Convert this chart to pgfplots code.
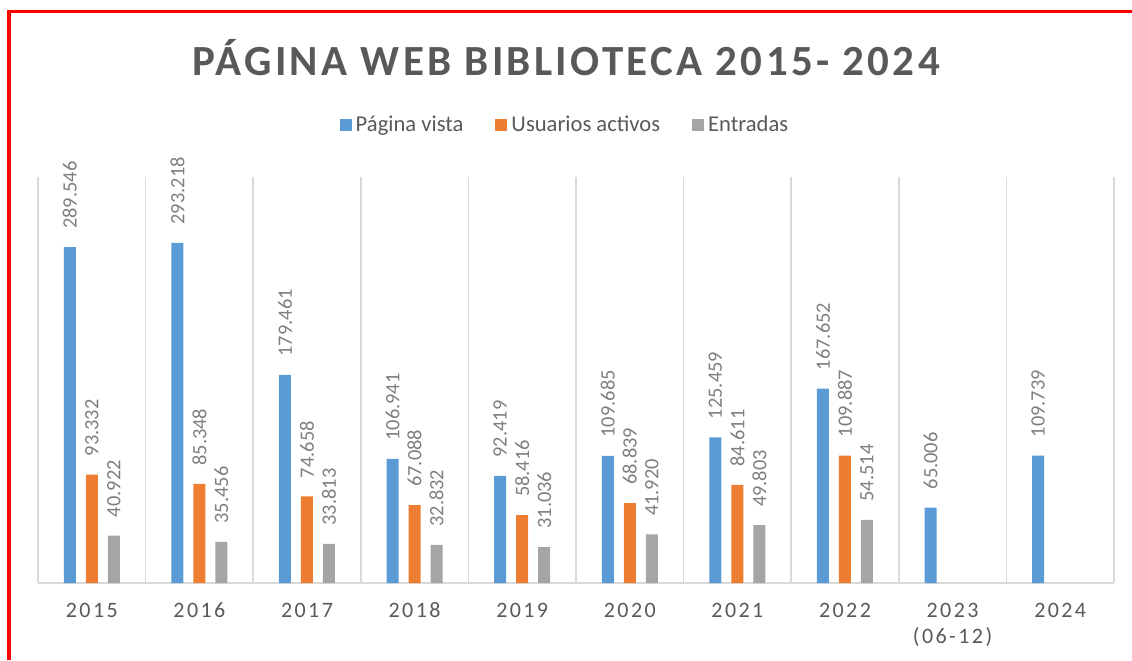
\documentclass[border=0pt]{standalone}
\usepackage{pgfplots}
\pgfplotsset{compat=1.18}
\usepackage{pgfplotstable}
\usepackage{fontspec}
\setmainfont{Carlito}
\definecolor{cblue}{HTML}{5B9BD5}
\definecolor{corange}{HTML}{ED7D31}
\definecolor{cgray}{HTML}{A5A5A5}
\definecolor{txt}{HTML}{595959}
\definecolor{lbl}{HTML}{7F7F7F}
\definecolor{gridc}{HTML}{D9D9D9}

\pgfplotstableread{
x y lab
0 289546 289.546
1 293218 293.218
2 179461 179.461
3 106941 106.941
4 92419 92.419
5 109685 109.685
6 125459 125.459
7 167652 167.652
8 65006 65.006
9 109739 109.739
}\pv
\pgfplotstableread{
x y lab
0 93332 93.332
1 85348 85.348
2 74658 74.658
3 67088 67.088
4 58416 58.416
5 68839 68.839
6 84611 84.611
7 109887 109.887
}\ua
\pgfplotstableread{
x y lab
0 40922 40.922
1 35456 35.456
2 33813 33.813
3 32832 32.832
4 31036 31.036
5 41920 41.920
6 49803 49.803
7 54514 54.514
}\en

\newcommand{\twolines}[2]{\vtop{\halign{\hfil##\hfil\cr #1\cr #2\cr}}}

\begin{document}
\begin{tikzpicture}
\useasboundingbox (0,0) rectangle (566pt,330pt);
\draw[red, line width=2.25pt] (4.5pt,0) -- (4.5pt,324.2pt);
\draw[red, line width=1.6pt] (3.4pt,324.2pt) -- (566pt,324.2pt);
\node[font=\fontsize{21.5}{24}\selectfont\bfseries\addfontfeature{LetterSpace=7.8}, text=txt, anchor=base] at (283pt,292pt) {PÁGINA WEB BIBLIOTECA 2015- 2024};
\begin{axis}[
  at={(19pt,38.5pt)}, anchor=south west,
  scale only axis, width=538pt, height=203pt,
  xmin=-0.5, xmax=9.5, ymin=0, ymax=350000,
  ybar=5pt, bar width=6pt,
  axis y line=none, axis x line*=bottom,
  x axis line style={draw=gridc, line width=0.8pt, -},
  xtick={0,...,9},
  xticklabels={2015,2016,2017,2018,2019,2020,2021,2022,{\twolines{2023}{(06-12)}},2024},
  xticklabel style={anchor=base, inner sep=0pt, yshift=-17.2pt,
    font=\fontsize{11}{13}\selectfont\addfontfeature{LetterSpace=11}, text=txt},
  major tick length=0pt,
  minor xtick={-0.5,0.5,...,9.5},
  xminorgrids, minor grid style={draw=gridc, line width=0.75pt},
  minor tick length=0pt,
  nodes near coords, point meta=explicit symbolic,
  every node near coord/.append style={rotate=90, anchor=west, inner xsep=9pt, inner ysep=0pt,
    font=\fontsize{10.2}{12}\selectfont, text=lbl},
  legend style={at={(0.4907,1)}, anchor=center, yshift=26pt, draw=none, fill=none,
    font=\fontsize{11.3}{13}\selectfont, text=txt,
    /tikz/every even column/.append style={column sep=14pt}},
  legend columns=-1,
  legend image code/.code={\fill[#1] (0pt,-3pt) rectangle (6pt,3pt);},
]
\addplot[fill=cblue, draw=none] table[x=x,y=y,meta=lab] {\pv};
\addplot[fill=corange, draw=none] table[x=x,y=y,meta=lab] {\ua};
\addplot[fill=cgray, draw=none] table[x=x,y=y,meta=lab] {\en};
\legend{Página vista, Usuarios activos, Entradas}
\end{axis}
\end{tikzpicture}
\end{document}
